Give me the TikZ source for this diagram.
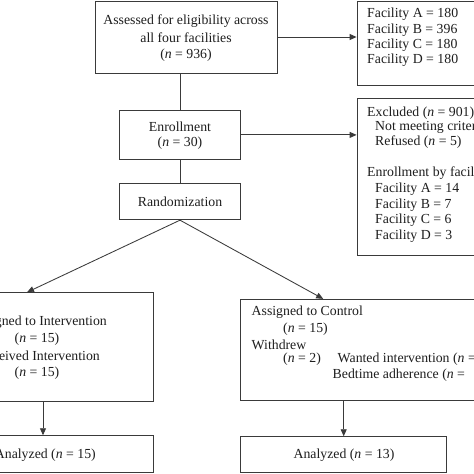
\documentclass[tikz,border=0pt]{standalone}
\usepackage{fontspec}
\setmainfont{Liberation Serif}
\usetikzlibrary{arrows.meta}
\definecolor{ln}{HTML}{3A3A3A}
\definecolor{tx}{HTML}{1E1E1E}
\tikzset{
  box/.style={draw=ln, line width=0.85pt, rectangle, inner sep=0pt, fill=white},
  conn/.style={draw=ln, line width=0.85pt},
  arr/.style={conn, -{Triangle[length=7pt,width=6pt]}},
  lbl/.style={text=tx, inner sep=0pt, font=\fontsize{13.8}{16}\selectfont},
}
\newcommand{\nn}{\textit{n}}
\begin{document}
\begin{tikzpicture}[x=1pt,y=-1pt]
\useasboundingbox (0,0) rectangle (474,474);
\clip (0,0) rectangle (474,474);
\fill[white] (0,0) rectangle (474,474);
% boxes
\node[box, minimum width=182, minimum height=72.5] (assess) at (186,37.5) {};
\node[box, minimum width=160, minimum height=83.75] (fac) at (437,43.1) {};
\node[box, minimum width=121.4, minimum height=48.3] (enrol) at (180,134.9) {};
\node[box, minimum width=160, minimum height=157.4] (excl) at (437,177) {};
\node[box, minimum width=121.4, minimum height=36.7] (rand) at (180,201.4) {};
\node[box, minimum width=220, minimum height=108.6] (lbox) at (43,347) {};
\node[box, minimum width=260, minimum height=101] (rbox) at (370.7,349.8) {};
\node[box, minimum width=220, minimum height=36.8] (lan) at (43,454.1) {};
\node[box, minimum width=206, minimum height=35.8] (ran) at (343.7,454.6) {};
% connectors
\draw[arr] (assess.east |- 0,37) -- (fac.west |- 0,37);
\draw[conn] (assess.south -| enrol.north) -- (enrol.north);
\draw[arr] (enrol.east) -- (excl.west |- enrol.east);
\draw[conn] (enrol.south) -- (rand.north);
\draw[arr] (rand.south) -- ([xshift=-16pt]lbox.north);
\draw[arr] (rand.south) -- ([xshift=-47.5pt]rbox.north);
\draw[arr] (lbox.south) -- (lan.north);
\draw[arr] (ran.north |- rbox.south) -- (ran.north);
% texts
\node[lbl] (a1) at (186,21) {Assessed for eligibility across};
\node[lbl] (a2) at (186,37.5) {all four facilities};
\node[lbl] (a3) at (186,55) {(\nn{} = 936)};
\node[lbl, anchor=west] (f1) at (367,14.7) {Facility A = 180};
\node[lbl, anchor=west] (f2) at (367,29.7) {Facility B = 396};
\node[lbl, anchor=west] (f3) at (367,45) {Facility C = 180};
\node[lbl, anchor=west] (f4) at (367,60.7) {Facility D = 180};
\node[lbl] (e1) at (180,127) {Enrollment};
\node[lbl] (e2) at (180,143) {(\nn{} = 30)};
\node[lbl, anchor=west] (x1) at (367,112.7) {Excluded (\nn{} = 901)};
\node[lbl, anchor=west] (x2) at (375,127.5) {Not meeting criteria};
\node[lbl, anchor=west] (x3) at (375,142.5) {Refused (\nn{} = 5)};
\node[lbl, anchor=west] (x4) at (367,173.5) {Enrollment by facility};
\node[lbl, anchor=west] (x5) at (375,189) {Facility A = 14};
\node[lbl, anchor=west] (x6) at (375,204.7) {Facility B = 7};
\node[lbl, anchor=west] (x7) at (375,220) {Facility C = 6};
\node[lbl, anchor=west] (x8) at (375,235.7) {Facility D = 3};
\node[lbl] (r1) at (180,201.5) {Randomization};
\node[lbl, anchor=east] (l1) at (107,322) {Assigned to Intervention};
\node[lbl] (l2) at (37,339) {(\nn{} = 15)};
\node[lbl, anchor=east] (l3) at (100,355.7) {Received Intervention};
\node[lbl] (l4) at (37,373) {(\nn{} = 15)};
\node[lbl, anchor=west] (c1) at (251.5,312.5) {Assigned to Control};
\node[lbl, anchor=west] (c2) at (283,329) {(\nn{} = 15)};
\node[lbl, anchor=west] (c3) at (251.5,344.5) {Withdrew};
\node[lbl, anchor=west] (c4) at (283,359.5) {(\nn{} = 2)};
\node[lbl, anchor=west] (c5) at (337.5,359.5) {Wanted intervention (\nn{} =};
\node[lbl, anchor=west] (c6) at (332.5,375.5) {Bedtime adherence (\nn{} =};
\node[lbl, anchor=east] (la) at (96,454.7) {Analyzed (\nn{} = 15)};
\node[lbl] (ra) at (344,454.7) {Analyzed (\nn{} = 13)};
\end{tikzpicture}
\end{document}
